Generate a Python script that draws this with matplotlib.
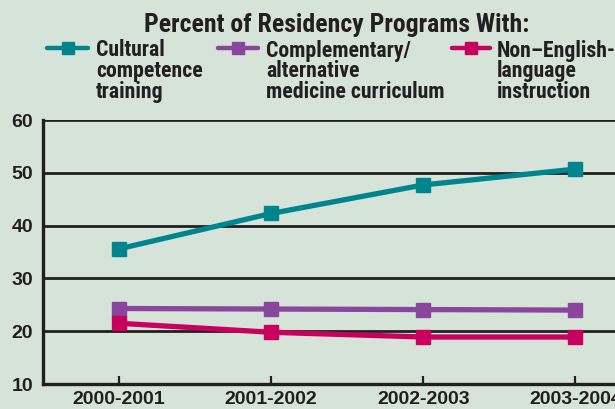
import matplotlib
matplotlib.use("Agg")
import matplotlib.pyplot as plt
from matplotlib.lines import Line2D
from matplotlib import font_manager

years = ["2000-2001", "2001-2002", "2002-2003", "2003-2004"]
cultural = [35.6, 42.3, 47.7, 50.7]
complementary = [24.3, 24.2, 24.1, 24.0]
non_english = [21.5, 19.8, 18.9, 18.9]

series_labels = ["Cultural\ncompetence\ntraining",
                 "Complementary/\nalternative\nmedicine curriculum",
                 "Non\u2013English-\nlanguage\ninstruction"]
COLORS = ["#00858E", "#8A459D", "#C8005E"]
BG = "#D5E3D9"
INK = "#231F20"

# condensed bold face for the title / legend, whatever is around
bold_fams = {f.name for f in font_manager.fontManager.ttflist
             if f.weight in (700, "bold") and f.style == "normal"}
NARROW = "DejaVu Sans"
for cand in ["Roboto Condensed", "Archivo Narrow", "PT Sans Narrow",
             "Fira Sans Condensed", "IBM Plex Sans Condensed",
             "Liberation Sans Narrow", "Barlow Condensed"]:
    if cand in bold_fams:
        NARROW = cand
        break
plt.rcParams["font.family"] = ["Liberation Sans", "DejaVu Sans"]

fig = plt.figure(figsize=(6.15, 4.09), dpi=100)
fig.patch.set_facecolor(BG)
ax = fig.add_axes([0.0699, 0.0611, 0.9301, 0.6455])
ax.set_facecolor(BG)

x = range(len(years))
for vals, c in zip([cultural, complementary, non_english], COLORS):
    ax.plot(x, vals, color=c, lw=3.8, marker="s", ms=10.5, mec=c, mfc=c,
            solid_capstyle="butt", zorder=3)

ax.set_xlim(-0.5, 3.26)
ax.set_ylim(10, 60)
ax.set_yticks([10, 20, 30, 40, 50, 60])
ax.set_xticks(list(x))
ax.set_xticklabels(years)
for yv in [20, 30, 40, 50, 60]:
    ax.axhline(yv, color=INK, lw=2.0, zorder=1)

for s in ["top", "right"]:
    ax.spines[s].set_visible(False)
for s in ["left", "bottom"]:
    ax.spines[s].set_linewidth(2.4)
    ax.spines[s].set_color(INK)
    ax.spines[s].set_zorder(4)

ax.tick_params(axis="x", direction="in", length=6, width=1.6, color=INK,
               pad=5, labelsize=14, labelcolor=INK)
ax.tick_params(axis="y", length=0, pad=7, labelsize=14, labelcolor=INK)
for lab in ax.get_xticklabels() + ax.get_yticklabels():
    lab.set_fontweight("bold")

fig.text(0.548, 1 - 32 / 409, "Percent of Residency Programs With:",
         ha="center", va="baseline", fontsize=18.5, fontweight="bold",
         family=NARROW, color=INK)

handle_x = [(47, 88), (218, 258), (452, 490)]
text_x = [96, 266, 497]
row_y = 1 - 47.5 / 409
for (x0, x1), tx, lab, c in zip(handle_x, text_x, series_labels, COLORS):
    fig.add_artist(Line2D([x0 / 615, x1 / 615], [row_y, row_y], color=c,
                          lw=3.2, solid_capstyle="round",
                          transform=fig.transFigure))
    fig.add_artist(Line2D([(x0 + x1) / 2 / 615], [row_y], color=c, marker="s",
                          ms=9, mec=c, mfc=c, transform=fig.transFigure))
    fig.text(tx / 615, 1 - 39.5 / 409, lab, ha="left", va="top", fontsize=15.7,
             fontweight="bold", family=NARROW, color=INK, linespacing=0.92)

fig.savefig("out.png", dpi=100, facecolor=fig.get_facecolor())
